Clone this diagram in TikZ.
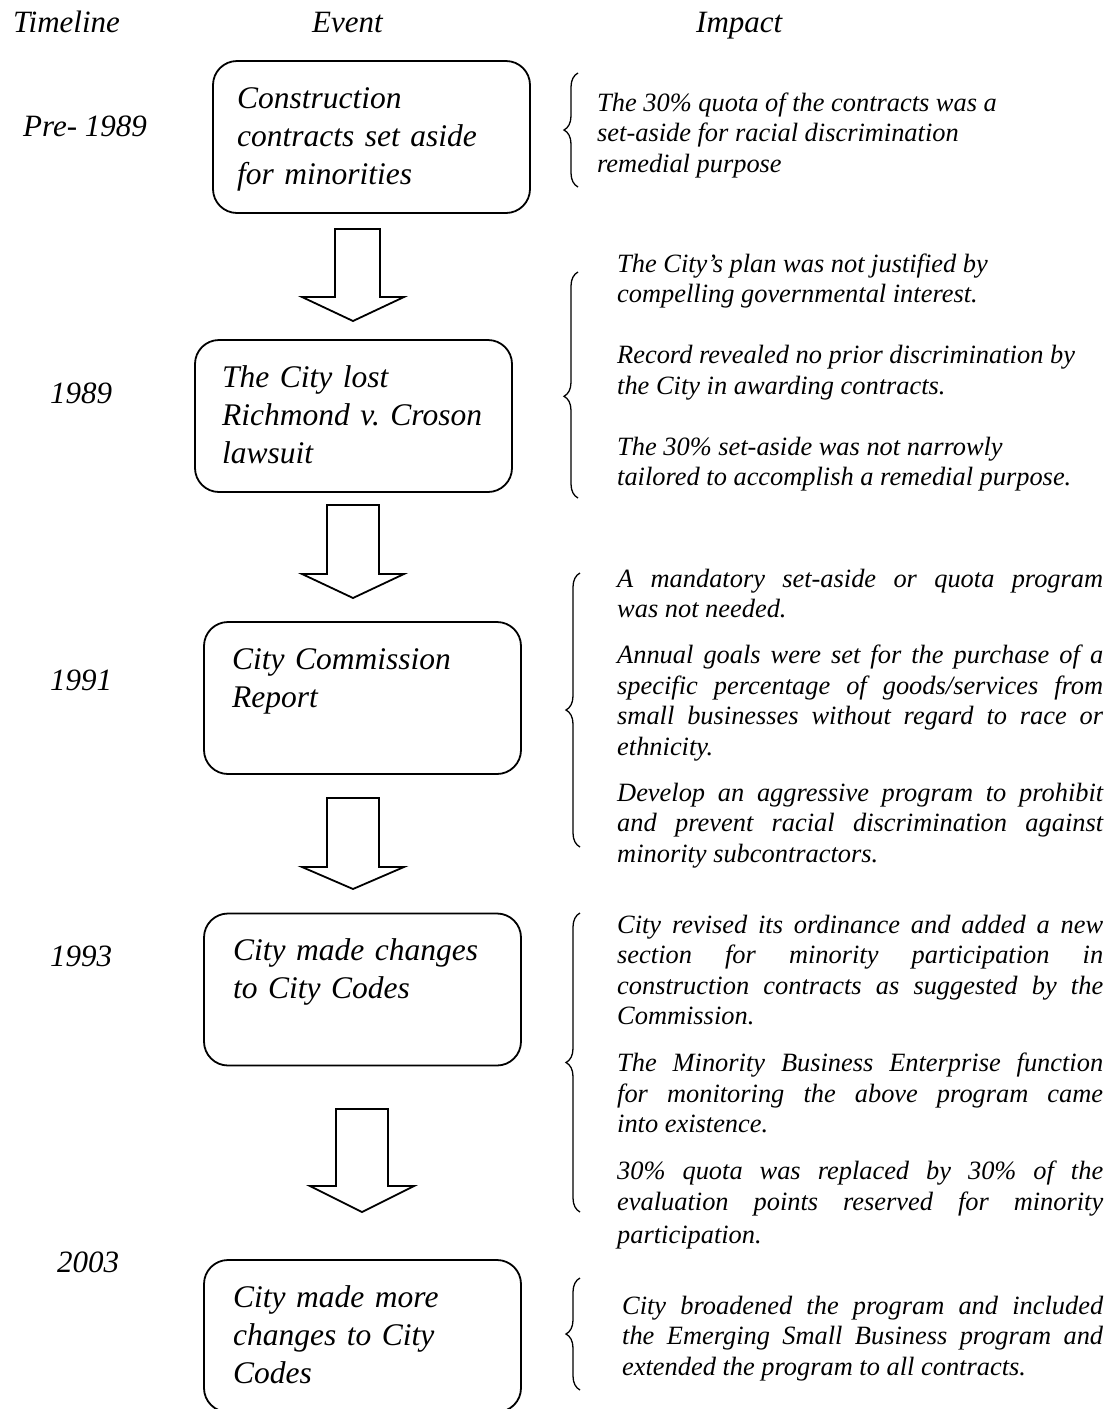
\documentclass[tikz,border=0pt]{standalone}
\usepackage{fontspec}
\setmainfont{Liberation Serif}
\usetikzlibrary{decorations.pathreplacing}
\frenchspacing
\newcommand\justline[1]{\hbox to \hsize{#1}}
\newcommand\raggline[1]{\hbox{#1}}
\newcommand\impblock[2]{\vtop{\hsize=#1\relax\parindent=0pt\lineskiplimit=-20pt #2}}
\newcommand\blockarr[8]{%
  \draw[arrowshape] (#1,#3) -- (#2,#3) -- (#2,#4) -- (#6,#4) -- (#7,#8) -- (#5,#4) -- (#1,#4) -- cycle;}
\tikzset{
  evbox/.style={draw, line width=1.8pt, rounded corners=24pt, minimum width=317pt, minimum height=152pt, inner sep=0pt},
  evtext/.style={anchor=base west, inner sep=0pt, text width=300pt, align=left, font=\fontsize{31.5}{38}\selectfont\itshape},
  headtext/.style={anchor=base west, inner sep=0pt, font=\fontsize{31}{37}\selectfont\itshape},
  imptext/.style={anchor=base west, inner sep=0pt, font=\fontsize{26.4}{30.5}\selectfont\itshape},
  arrowshape/.style={draw, line width=1.8pt, line join=miter, fill=white},
  bracepath/.style={draw, line width=1.3pt, decorate, decoration={brace, amplitude=14pt, aspect=0.5}},
}
\begin{document}
\begin{tikzpicture}[x=1pt, y=-1pt]
\useasboundingbox[fill=white] (0,0) rectangle (1116,1409);

% headers
\node[headtext] (hT) at (13,32) {Timeline};
\node[headtext] (hE) at (312,32) {Event};
\node[headtext] (hI) at (696,32) {Impact};

% years
\node[headtext] (y1) at (23,136) {Pre- 1989};
\node[headtext] (y2) at (50,403) {1989};
\node[headtext] (y3) at (50,690) {1991};
\node[headtext] (y4) at (50,966) {1993};
\node[headtext] (y5) at (57,1272) {2003};

% event boxes
\node[evbox] (b1) at (371.5,137) {};
\node[evbox] (b2) at (353.5,416) {};
\node[evbox] (b3) at (362.5,698) {};
\node[evbox] (b4) at (362.5,989.5) {};
\node[evbox] (b5) at (362.5,1336) {};

\node[evtext] (t1) at (237,108) {Construction\\contracts set aside\\for minorities};
\node[evtext] (t2) at (222,387) {The City lost\\Richmond v. Croson\\lawsuit};
\node[evtext] (t3) at (232,669) {City Commission\\Report};
\node[evtext] (t4) at (233,960) {City made changes\\to City Codes};
\node[evtext] (t5) at (233,1307) {City made more\\changes to City\\Codes};

% block arrows
\blockarr{335}{380}{229}{297}{302}{404}{353}{321}
\blockarr{327}{379}{505}{574}{302}{404}{353}{598}
\blockarr{327}{379}{798}{867}{302}{404}{353}{889}
\blockarr{336}{388}{1109}{1186}{310}{414}{362}{1212}

% braces
\draw[bracepath] (578,187) -- (578,73);
\draw[bracepath, decoration={aspect=0.45}] (578,498) -- (578,272);
\draw[bracepath, decoration={aspect=0.5}] (580,847) -- (580,573);
\draw[bracepath, decoration={aspect=0.5}] (580,1212) -- (580,913);
\draw[bracepath] (580,1390) -- (580,1278);

% impact texts
\node[imptext] (i1) at (597,111) {\impblock{480pt}{%
\raggline{The 30\% quota of the contracts was a}
\raggline{set-aside for racial discrimination}
\raggline{remedial purpose}}};

\node[imptext] (i2) at (617,272) {\impblock{486pt}{%
\raggline{The City’s plan was not justified by}
\raggline{compelling governmental interest.}
\vskip 30.5pt
\raggline{Record revealed no prior discrimination by}
\raggline{the City in awarding contracts.}
\vskip 30.5pt
\raggline{The 30\% set-aside was not narrowly}
\raggline{tailored to accomplish a remedial purpose.}}};

\node[imptext] (i3) at (617,587) {\impblock{486pt}{%
\justline{A mandatory set-aside or quota program}
\raggline{was not needed.}
\vskip 15.5pt
\justline{Annual goals were set for the purchase of a}
\justline{specific percentage of goods/services from}
\justline{small businesses without regard to race or}
\raggline{ethnicity.}
\vskip 15.5pt
\justline{Develop an aggressive program to prohibit}
\justline{and prevent racial discrimination against}
\raggline{minority subcontractors.}}};

\node[imptext] (i4) at (617,933) {\impblock{486pt}{%
\justline{City revised its ordinance and added a new}
\justline{section for minority participation in}
\justline{construction contracts as suggested by the}
\raggline{Commission.}
\vskip 16.5pt
\justline{The Minority Business Enterprise function}
\justline{for monitoring the above program came}
\raggline{into existence.}
\vskip 16.5pt
\justline{30\% quota was replaced by 30\% of the}
\justline{evaluation points reserved for minority}
\vskip 2.5pt
\raggline{participation.}}};

\node[imptext] (i5) at (622,1314) {\impblock{481pt}{%
\justline{City broadened the program and included}
\justline{the Emerging Small Business program and}
\raggline{extended the program to all contracts.}}};
\end{tikzpicture}
\end{document}
